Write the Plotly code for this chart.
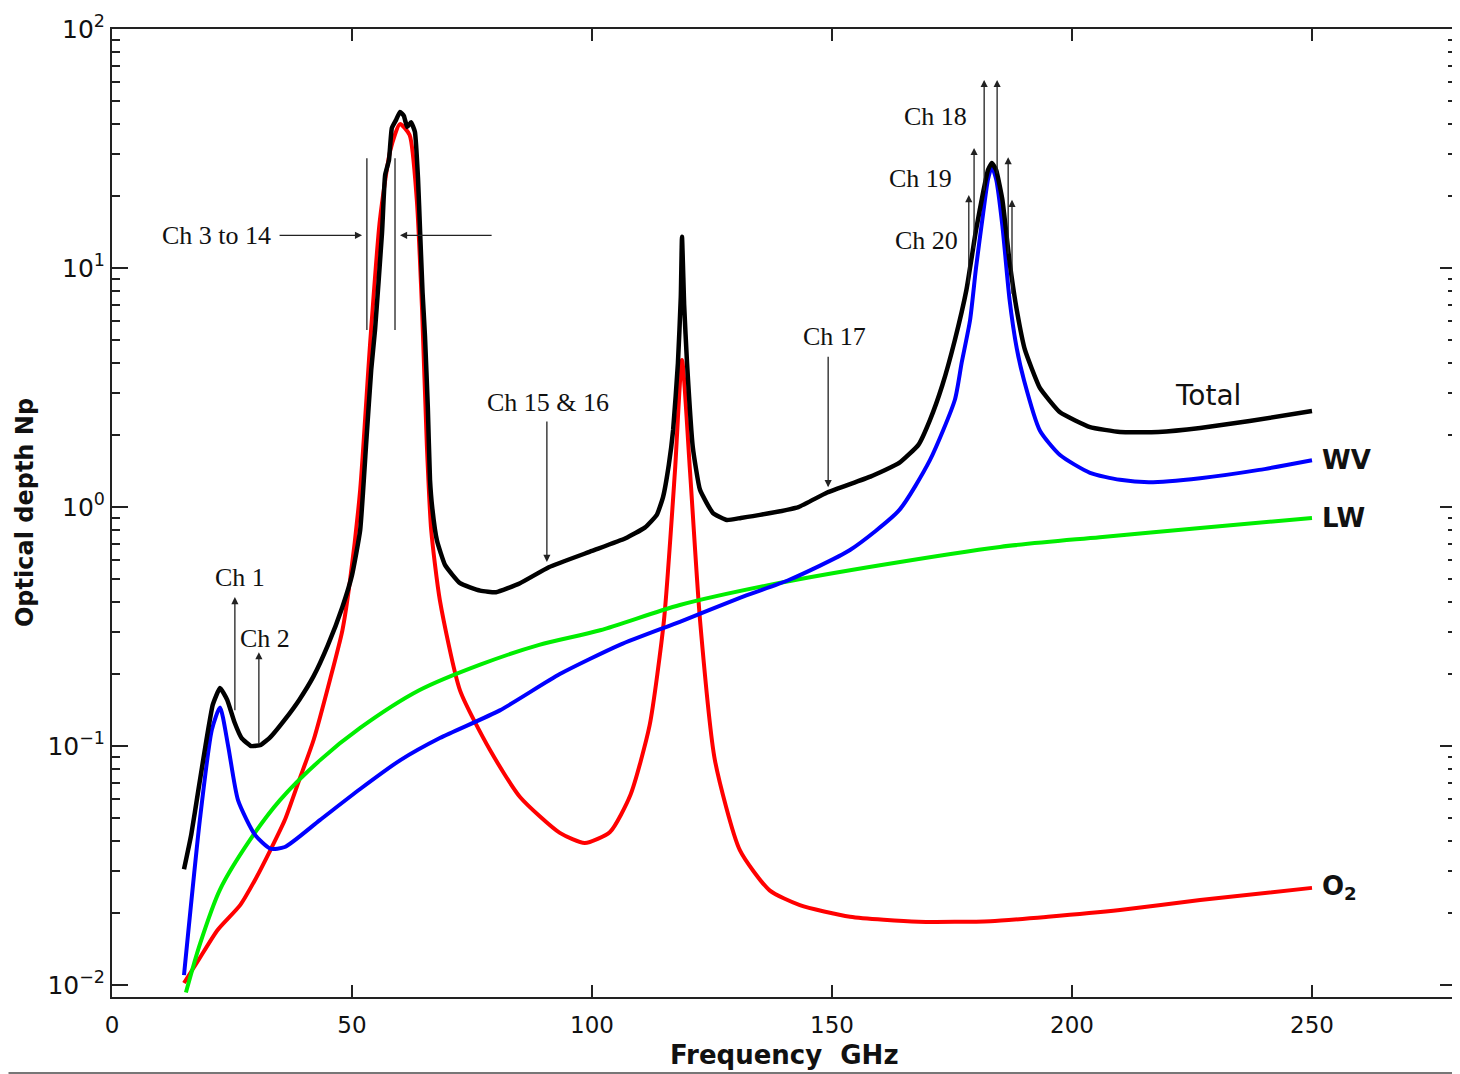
import math
import plotly.graph_objects as go

# ---------------- data ----------------
total_f = [15, 16.5, 18, 19.5, 21, 22.5, 24, 25.5, 27, 29, 31, 33, 36, 39, 42, 45, 48, 50,
           51.7, 53, 54, 54.8, 56.25, 56.9, 57.7, 58.3, 59.2, 60, 60.8, 61.5, 62.3, 63.1,
           63.75, 64.2, 64.7, 65.2, 65.8, 66.25, 66.7, 67.7, 69.4, 72.5, 76.7, 80, 85, 91, 100,
           107, 111, 113.5, 114.8, 116, 116.9, 117.9, 118.5, 118.75, 119.2, 119.8, 121, 122.5,
           125.2, 128.1, 131, 135, 143, 149, 158, 164, 168, 170.4, 173, 175.6, 178, 180,
           181.5, 182.5, 183.3, 184.2, 185.5, 187, 188.5, 190.2, 193.3, 197.5, 203.75, 210,
           218, 226.7, 237, 250]
total_v = [0.0305, 0.0425, 0.0655, 0.101, 0.149, 0.175, 0.156, 0.126, 0.108, 0.100, 0.101,
           0.109, 0.129, 0.156, 0.196, 0.265, 0.382, 0.519,
           0.80, 1.91, 3.74, 5.51, 14.0, 24.5, 28.3, 38.5, 41.7, 45.0, 43.3, 38.9, 40.7, 37.2,
           23.8, 14.0, 7.9, 5.2, 2.6, 1.3, 1.0, 0.724, 0.571, 0.48, 0.447, 0.44, 0.48, 0.56, 0.655,
           0.74, 0.82, 0.927, 1.10, 1.50, 2.10, 4.0, 7.57, 13.5, 7.0, 4.0, 1.78, 1.18,
           0.944, 0.883, 0.9, 0.927, 1.0, 1.15, 1.34, 1.53, 1.82, 2.31, 3.24, 5.0, 8.09, 14.4,
           20.8, 25.7, 27.5, 25.7, 19.3, 10.6, 6.67, 4.54, 3.15, 2.49, 2.16, 2.06,
           2.06, 2.14, 2.29, 2.52]

o2_f = [15, 18, 22, 26.7, 30, 33, 36, 39, 42, 45.4, 48, 49.6, 51.7, 53.75, 55.8, 58, 60, 62,
        63.5, 64.6, 65.6, 66.5, 68.3, 72.5, 78.75, 85, 93.3, 98.5, 103.75, 108, 112, 115, 117.3,
        118.75, 120.4, 122.5, 125.6, 130.8, 137, 143.3, 153.75, 168, 183, 195, 210, 226.7, 250]
o2_v = [0.0102, 0.0127, 0.017, 0.0216, 0.028, 0.0367, 0.049, 0.0721, 0.106, 0.189, 0.305,
        0.495, 1.18, 4.76, 15.8, 31.2, 40.0, 36.0, 19.3, 6.67, 1.8, 0.8, 0.408, 0.171, 0.0962,
        0.0612, 0.0433, 0.0393, 0.0437, 0.0624, 0.122, 0.337, 1.43, 4.12, 1.43, 0.337,
        0.0873, 0.0367, 0.0249, 0.0216, 0.0193, 0.0184, 0.0185, 0.0193, 0.0206, 0.0227, 0.0255]

wv_f = [15, 18.3, 20.8, 22.5, 24.2, 26.25, 29.8, 33, 36, 43.3, 51.7, 60, 68.3, 80.8, 93.3,
        105.8, 118.3, 130.8, 141, 153.75, 164, 170.4, 175.6, 177, 178.75, 180, 181.5, 182.5,
        183.3, 184.2, 185.5, 187, 188.5, 190, 193.3, 197.5, 203.75, 210, 216, 226.7, 239, 250]
wv_v = [0.0110, 0.049, 0.117, 0.145, 0.100, 0.0594, 0.0425, 0.0372, 0.0378, 0.049, 0.0661,
        0.0871, 0.108, 0.141, 0.20, 0.265, 0.331, 0.417, 0.495, 0.661, 0.97, 1.57, 2.81,
        4.0, 6.03, 10.0, 17.0, 23.5, 26.5, 23.5, 15.0, 7.35, 4.6, 3.39, 2.09, 1.65, 1.39,
        1.30, 1.27, 1.32, 1.43, 1.57]

lw_f = [15.4, 18.3, 22.5, 28.75, 35, 43.3, 51.7, 64, 76.7, 89, 101.7, 118.3, 139, 160,
        185, 205.8, 226.7, 250]
lw_v = [0.0093, 0.0148, 0.0251, 0.0405, 0.0594, 0.0871, 0.119, 0.171, 0.219, 0.265,
        0.305, 0.389, 0.481, 0.571, 0.681, 0.748, 0.817, 0.90]

x_ticks = [0, 50, 100, 150, 200, 250]
y_ticks = [0.01, 0.1, 1, 10, 100]
y_ticktext = ["10<sup>−2</sup>", "10<sup>−1</sup>", "10<sup>0</sup>", "10<sup>1</sup>", "10<sup>2</sup>"]
y_minor = [m * d for d in (0.01, 0.1, 1, 10) for m in range(2, 10)]

# channel arrows: (head f, head value, tail f, tail value)
ch_arrows = [
    (25.6, 0.42, 25.6, 0.139),      # Ch 1
    (30.6, 0.247, 30.6, 0.101),     # Ch 2
    (52.1, 13.7, 34.6, 13.7),       # Ch 3 to 14 (left)
    (60.0, 13.7, 79.4, 13.7),       # Ch 3 to 14 (right)
    (90.6, 0.589, 90.6, 2.31),      # Ch 15 & 16
    (149.2, 1.21, 149.2, 4.32),     # Ch 17
    (181.7, 61.2, 181.7, 20.8),     # Ch 18
    (184.4, 61.2, 184.4, 24.5),     # Ch 18
    (179.6, 31.8, 179.6, 11.9),     # Ch 19
    (186.7, 29.1, 186.7, 11.3),     # Ch 19
    (178.5, 20.2, 178.5, 8.5),      # Ch 20
    (187.5, 19.3, 187.5, 7.7),      # Ch 20
]
ch3_lines_f = [53.1, 58.96]
ch3_lines_v = [5.51, 28.8]

ch_labels = ["Ch 1", "Ch 2", "Ch 3 to 14", "Ch 15 &amp; 16", "Ch 17", "Ch 18", "Ch 19", "Ch 20"]
ch_label_f = [26.7, 31.9, 33.5, 90.8, 150.6, 171.5, 168.5, 169.6]
ch_label_v = [0.505, 0.283, 13.7, 2.75, 5.19, 42.9, 23.6, 13.0]
ch_label_anchor = ["center", "center", "right", "center", "center", "center", "center", "center"]

series_labels = ["Total", "<b>WV</b>", "<b>LW</b>", "<b>O<sub>2</sub></b>"]
series_label_f = [228.3, 251.7, 251.7, 251.7]
series_label_v = [2.94, 1.57, 0.90, 0.0255]
series_label_anchor = ["center", "left", "left", "left"]
series_label_size = [28, 26, 26, 26]

# ---------------- figure ----------------
SM = 0.6
fig = go.Figure()
fig.add_trace(go.Scatter(x=o2_f, y=o2_v, mode="lines",
                         line=dict(color="#ff0000", width=4, shape="spline", smoothing=SM)))
fig.add_trace(go.Scatter(x=lw_f, y=lw_v, mode="lines",
                         line=dict(color="#00ee00", width=4, shape="spline", smoothing=0.8)))
fig.add_trace(go.Scatter(x=wv_f, y=wv_v, mode="lines",
                         line=dict(color="#0000ff", width=4, shape="spline", smoothing=SM)))
fig.add_trace(go.Scatter(x=total_f, y=total_v, mode="lines",
                         line=dict(color="#000000", width=4.5, shape="spline", smoothing=0.4)))
for f in ch3_lines_f:
    fig.add_trace(go.Scatter(x=[f, f], y=ch3_lines_v, mode="lines", line=dict(color="#222", width=1.3)))

SERIF = "Liberation Serif"
SANS = "DejaVu Sans"
annotations = []
for hf, hv, tf, tv in ch_arrows:
    annotations.append(dict(x=hf, y=math.log10(hv), ax=tf, ay=math.log10(tv), xref="x", yref="y",
                            axref="x", ayref="y", text="", showarrow=True, arrowhead=2,
                            arrowsize=1.1, arrowwidth=1.3, arrowcolor="#222", standoff=0, startstandoff=0))
for t, f, v, a in zip(ch_labels, ch_label_f, ch_label_v, ch_label_anchor):
    annotations.append(dict(x=f, y=math.log10(v), xref="x", yref="y", text=t, showarrow=False,
                            xanchor=a, font=dict(family=SERIF, size=26, color="#111")))
for t, f, v, a, s in zip(series_labels, series_label_f, series_label_v, series_label_anchor, series_label_size):
    annotations.append(dict(x=f, y=math.log10(v), xref="x", yref="y", text=t, showarrow=False,
                            xanchor=a, font=dict(family=SANS, size=s, color="#111")))
annotations.append(dict(x=0.5, y=-0.0599, xref="paper", yref="paper", xanchor="center", yanchor="middle",
                        text="<b>Frequency  GHz</b>", showarrow=False,
                        font=dict(family=SANS, size=26, color="#111")))
annotations.append(dict(x=-0.0647, y=0.5, xref="paper", yref="paper", xanchor="center", yanchor="middle",
                        textangle=-90, text="<b>Optical depth Np</b>", showarrow=False,
                        font=dict(family=SANS, size=24, color="#111")))

# the page body adds an 8 px margin, so the figure is laid out 8 px up/left
fig.update_layout(
    width=1452, height=1066,
    margin=dict(l=104, r=4, t=21, b=77, autoexpand=False),
    paper_bgcolor="white", plot_bgcolor="white",
    showlegend=False,
    annotations=annotations,
    shapes=[dict(type="line", xref="paper", yref="paper", x0=-0.077, x1=1.003, y0=-0.0785, y1=-0.0785,
                 line=dict(color="#777", width=2))],
    xaxis=dict(range=[0, 280], tickvals=x_ticks, ticks="inside", ticklen=12, tickwidth=2,
               tickcolor="#222", showline=True, linecolor="#222", linewidth=2, mirror="ticks",
               showgrid=False, zeroline=False, ticklabelstandoff=6, automargin=False,
               tickfont=dict(family=SANS, size=23, color="#111")),
    yaxis=dict(type="log", range=[-2.05, 2], tickvals=y_ticks, ticktext=y_ticktext,
               ticks="inside", ticklen=16, tickwidth=2, tickcolor="#222", showline=True,
               linecolor="#222", linewidth=2, mirror="ticks", showgrid=False, zeroline=False,
               ticklabelstandoff=0, automargin=False,
               minor=dict(tickvals=y_minor, ticks="inside", ticklen=8, tickwidth=2, tickcolor="#222", showgrid=False),
               tickfont=dict(family=SANS, size=25, color="#111")),
)

fig.write_html("out.html", config={"displayModeBar": False})
